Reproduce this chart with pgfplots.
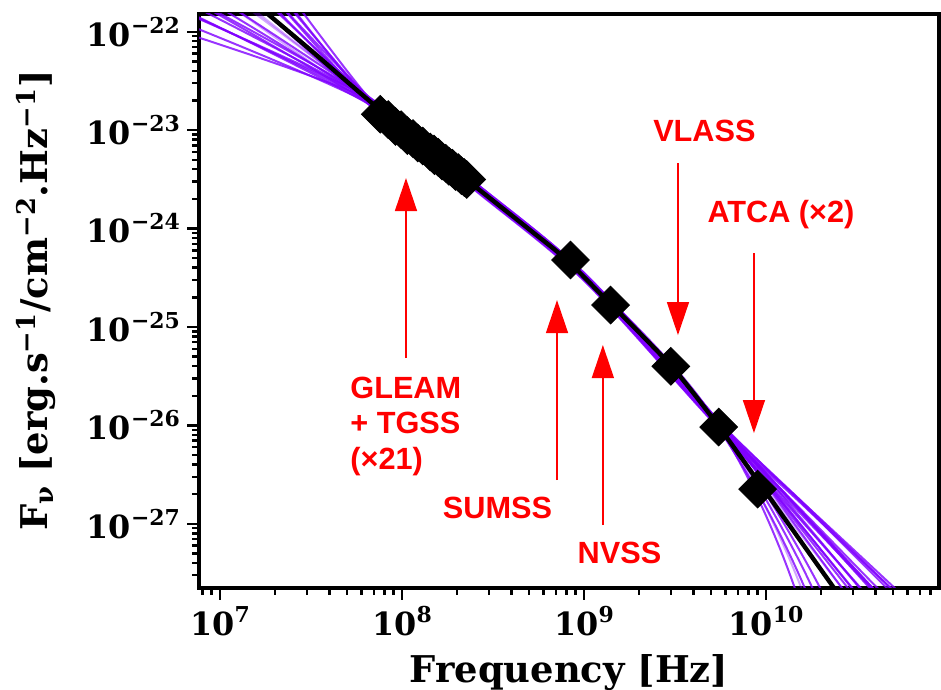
\documentclass[border=0pt]{standalone}
\usepackage{pgfplots}
\pgfplotsset{compat=1.18}
\usepackage{fontspec}
\setmainfont{DejaVu Serif}
\newfontfamily\annfont{Liberation Sans}
\usetikzlibrary{arrows.meta}
\definecolor{vio}{RGB}{127,0,255}
\definecolor{annred}{RGB}{255,0,0}
\newcommand{\pw}[1]{10\raisebox{6.5bp}{\fontsize{11}{11}\selectfont #1}}
\begin{document}
\begin{tikzpicture}
\begin{axis}[
 scale only axis, width=370bp, height=287bp,
 xmode=log, ymode=log,
 xmin=7.67e6, xmax=8.93e10, ymin=2.25e-28, ymax=1.53e-22,
 axis line style={line width=2bp},
 tick align=outside, tick pos=left,
 major tick length=6bp, minor tick length=3.5bp,
 tick style={black, line width=1.2bp},
 xtick={1e7,1e8,1e9,1e10},
 xticklabels={\pw{7},\pw{8},\pw{9},\pw{10}},
 ytick={1e-27,1e-26,1e-25,1e-24,1e-23,1e-22},
 yticklabels={\pw{−27},\pw{−26},\pw{−25},\pw{−24},\pw{−23},\pw{−22}},
 minor xtick={8e6,9e6,2e7,3e7,4e7,5e7,6e7,7e7,8e7,9e7,2e8,3e8,4e8,5e8,6e8,7e8,8e8,9e8,2e9,3e9,4e9,5e9,6e9,7e9,8e9,9e9,2e10,3e10,4e10,5e10,6e10,7e10,8e10},
 minor ytick={3e-28,4e-28,5e-28,6e-28,7e-28,8e-28,9e-28,2e-27,3e-27,4e-27,5e-27,6e-27,7e-27,8e-27,9e-27,2e-26,3e-26,4e-26,5e-26,6e-26,7e-26,8e-26,9e-26,2e-25,3e-25,4e-25,5e-25,6e-25,7e-25,8e-25,9e-25,2e-24,3e-24,4e-24,5e-24,6e-24,7e-24,8e-24,9e-24,2e-23,3e-23,4e-23,5e-23,6e-23,7e-23,8e-23,9e-23},
 tick label style={font=\fontsize{16}{16}\selectfont\bfseries},
 xlabel={Frequency [Hz]},
 xlabel style={font=\fontsize{18.5}{18.5}\selectfont\bfseries, at={(axis description cs:0.5,-0.1646)}, anchor=base},
 ylabel={F\textsubscript{ν} [erg.s\textsuperscript{−1}/cm\textsuperscript{−2}.Hz\textsuperscript{−1}]},
 ylabel style={font=\fontsize{18.5}{18.5}\selectfont\bfseries, at={(axis description cs:-0.2041,0.5)}, anchor=base},
]
\pgfplotsset{pl/.style={vio, line width=1pt, opacity=0.8, smooth, mark=none}, pll/.style={vio, line width=1pt, opacity=0.35, smooth, mark=none}}
\addplot[pl] coordinates {(6.31e6,9.772e-23) (6.761e7,1.995e-23) (2.512e8,2.818e-24) (1e9,3.388e-25) (5.012e9,1.288e-26) (1.585e10,9.333e-28) (6.31e10,3.890e-29)};
\addplot[pl] coordinates {(6.31e6,1.222e-22) (6.761e7,1.820e-23) (2.512e8,2.570e-24) (1e9,3.090e-25) (5.012e9,1.175e-26) (1.585e10,1.660e-27) (6.31e10,1.542e-28)};
\addplot[pl] coordinates {(6.31e6,1.578e-22) (6.761e7,2.042e-23) (2.512e8,2.884e-24) (1e9,3.467e-25) (5.012e9,1.318e-26) (1.585e10,1.603e-27) (6.31e10,1.245e-28)};
\addplot[pl] coordinates {(6.31e6,1.622e-22) (6.761e7,1.905e-23) (2.512e8,2.692e-24) (1e9,3.236e-25) (5.012e9,1.230e-26) (1.585e10,1.288e-27) (6.31e10,8.356e-29)};
\addplot[pl] coordinates {(6.31e6,1.663e-22) (6.761e7,1.778e-23) (2.512e8,2.512e-24) (1e9,3.020e-25) (5.012e9,1.148e-26) (1.585e10,1.047e-27) (6.31e10,5.754e-29)};
\addplot[pl] coordinates {(6.31e6,2.051e-22) (6.761e7,1.995e-23) (2.512e8,2.818e-24) (1e9,3.388e-25) (5.012e9,1.288e-26) (1.585e10,1.660e-27) (6.31e10,1.380e-28)};
\addplot[pl] coordinates {(6.31e6,2.415e-22) (6.761e7,2.089e-23) (2.512e8,2.951e-24) (1e9,3.548e-25) (5.012e9,1.349e-26) (1.585e10,1.096e-27) (6.31e10,5.248e-29)};
\addplot[pl] coordinates {(6.31e6,2.371e-22) (6.761e7,1.820e-23) (2.512e8,2.570e-24) (1e9,3.090e-25) (5.012e9,1.175e-26) (1.585e10,1.349e-27) (6.31e10,9.772e-29)};
\addplot[pl] coordinates {(6.31e6,2.931e-22) (6.761e7,1.950e-23) (2.512e8,2.754e-24) (1e9,3.311e-25) (5.012e9,1.259e-26) (1.585e10,3.631e-28) (6.31e10,1.096e-30)};
\addplot[pl] coordinates {(6.31e6,3.707e-22) (6.761e7,2.042e-23) (2.512e8,2.884e-24) (1e9,3.467e-25) (5.012e9,1.318e-26) (1.585e10,1.274e-27) (6.31e10,7.499e-29)};
\addplot[pll] coordinates {(6.31e6,3.908e-22) (6.761e7,1.778e-23) (2.512e8,2.512e-24) (1e9,3.020e-25) (5.012e9,1.148e-26) (1.585e10,7.413e-28) (6.31e10,2.692e-29)};
\addplot[pll] coordinates {(6.31e6,5.297e-22) (6.761e7,1.995e-23) (2.512e8,2.818e-24) (1e9,3.388e-25) (5.012e9,1.288e-26) (1.585e10,2.089e-28) (6.31e10,6.918e-32)};
\addplot[pll] coordinates {(6.31e6,6.109e-22) (6.761e7,1.905e-23) (2.512e8,2.692e-24) (1e9,3.236e-25) (5.012e9,1.230e-26) (1.585e10,1.059e-27) (6.31e10,5.433e-29)};
\addplot[pl] coordinates {(6.31e6,7.907e-22) (6.761e7,2.089e-23) (2.512e8,2.951e-24) (1e9,3.548e-25) (5.012e9,1.349e-26) (1.585e10,7.762e-28) (6.31e10,2.455e-29)};
\addplot[pl] coordinates {(6.31e6,8.954e-22) (6.761e7,1.738e-23) (2.512e8,2.455e-24) (1e9,2.951e-25) (5.012e9,1.122e-26) (1.585e10,1.216e-27) (6.31e10,8.222e-29)};
\addplot[pl] coordinates {(6.31e6,1.303e-21) (6.761e7,1.995e-23) (2.512e8,2.818e-24) (1e9,3.388e-25) (5.012e9,1.288e-26) (1.585e10,1.318e-28) (6.31e10,7.447e-33)};
\addplot[pl] coordinates {(6.31e6,1.542e-21) (6.761e7,1.862e-23) (2.512e8,2.630e-24) (1e9,3.162e-25) (5.012e9,1.202e-26) (1.585e10,9.226e-28) (6.31e10,4.121e-29)};
\addplot[pl] coordinates {(6.31e6,2.143e-21) (6.761e7,2.042e-23) (2.512e8,2.884e-24) (1e9,3.467e-25) (5.012e9,1.318e-26) (1.585e10,4.786e-28) (6.31e10,3.499e-30)};
\addplot[pl] coordinates {(6.31e6,2.483e-21) (6.761e7,1.778e-23) (2.512e8,2.512e-24) (1e9,3.020e-25) (5.012e9,1.148e-26) (1.585e10,1.567e-27) (6.31e10,1.396e-28)};
\addplot[pl] coordinates {(6.31e6,3.622e-21) (6.761e7,1.950e-23) (2.512e8,2.754e-24) (1e9,3.311e-25) (5.012e9,1.259e-26) (1.585e10,8.610e-28) (6.31e10,3.350e-29)};
\addplot[pl] coordinates {(6.31e6,4.603e-21) (6.761e7,1.820e-23) (2.512e8,2.570e-24) (1e9,3.090e-25) (5.012e9,1.175e-26) (1.585e10,2.541e-28) (6.31e10,2.541e-31)};
\addplot[pl] coordinates {(6.31e6,7.194e-21) (6.761e7,1.995e-23) (2.512e8,2.818e-24) (1e9,3.388e-25) (5.012e9,1.288e-26) (1.585e10,1.318e-27) (6.31e10,8.318e-29)};
% best fit
\addplot[black, line width=2.2pt, smooth, mark=none] coordinates {(1.259e7,2.754e-22) (1.778e7,1.585e-22) (3.162e7,6.457e-23) (6.310e7,2.138e-23) (1.259e8,7.413e-24) (2.512e8,2.692e-24) (5.012e8,9.772e-25) (7.943e8,4.898e-25) (1.259e9,2.089e-25) (1.995e9,8.913e-26) (3.162e9,3.631e-26) (5.012e9,1.230e-26) (7.943e9,3.802e-27) (1.259e10,1.148e-27) (1.995e10,3.467e-28) (3.162e10,1.047e-28)};
% data
\addplot[only marks, mark=square*, mark size=6.7pt, mark options={rotate=45, fill=black, draw=black, solid}] coordinates {(7.6e7,1.45e-23) (8.4e7,1.28e-23) (9.2e7,1.09e-23) (9.9e7,1.01e-23) (1.07e8,8.8e-24) (1.15e8,8.2e-24) (1.22e8,7.4e-24) (1.30e8,6.9e-24) (1.43e8,6.0e-24) (1.50e8,5.7e-24) (1.51e8,5.5e-24) (1.58e8,5.3e-24) (1.66e8,4.85e-24) (1.74e8,4.6e-24) (1.81e8,4.3e-24) (1.89e8,4.1e-24) (1.97e8,3.8e-24) (2.04e8,3.7e-24) (2.12e8,3.45e-24) (2.20e8,3.3e-24) (2.27e8,3.15e-24) (8.43e8,4.79e-25) (1.4e9,1.667e-25) (3.0e9,3.98e-26) (5.5e9,9.62e-27) (9.0e9,2.25e-27)};
% annotations
\begin{scope}[annred, line width=0.75bp]
\draw[-{Triangle[width=11bp,length=16.5bp]}] (axis cs:1.052e8,4.83e-26) -- (axis cs:1.052e8,3.26e-24);
\draw[-{Triangle[width=11bp,length=16.5bp]}] (axis cs:7.11e8,2.78e-27) -- (axis cs:7.11e8,1.875e-25);
\draw[-{Triangle[width=11bp,length=16.5bp]}] (axis cs:1.27e9,9.70e-28) -- (axis cs:1.27e9,6.55e-26);
\draw[-{Triangle[width=11bp,length=16.5bp]}] (axis cs:3.285e9,4.63e-24) -- (axis cs:3.285e9,8.27e-26);
\draw[-{Triangle[width=11bp,length=16.5bp]}] (axis cs:8.59e9,5.63e-25) -- (axis cs:8.59e9,8.35e-27);
\end{scope}
\begin{scope}[every node/.style={text=annred, font=\annfont\bfseries\fontsize{15.4}{15.4}\selectfont, inner sep=0pt}]
\node[anchor=base west] at (axis cs:5.18e7,1.894e-26) {GLEAM};
\node[anchor=base west] at (axis cs:5.18e7,8.26e-27) {+ TGSS};
\node[anchor=base west] at (axis cs:5.18e7,3.60e-27) {(×21)};
\node[anchor=base] at (axis cs:3.35e8,1.143e-27) {SUMSS};
\node[anchor=base] at (axis cs:1.567e9,3.99e-28) {NVSS};
\node[anchor=base] at (axis cs:4.59e9,7.62e-24) {VLASS};
\node[anchor=base] at (axis cs:1.209e10,1.164e-24) {ATCA (×2)};
\end{scope}
\end{axis}
\pgfresetboundingbox
\path ([shift={(-99.5bp,-51.25bp)}]current axis.south west) rectangle ([shift={(1bp,6.75bp)}]current axis.north east);
\end{tikzpicture}
\end{document}
